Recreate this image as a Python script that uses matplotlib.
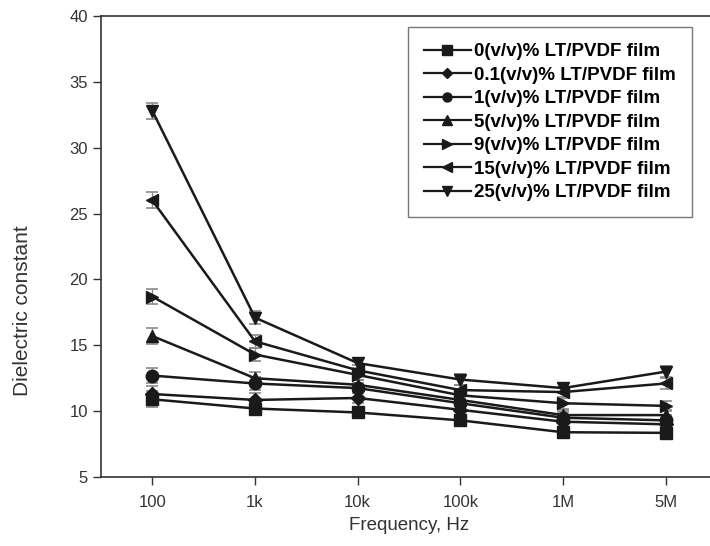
import matplotlib.pyplot as plt
from matplotlib.lines import Line2D
import numpy as np

plt.rcParams['font.family'] = ['Liberation Sans', 'DejaVu Sans']

# --- DATA ---
freq_labels = ['100', '1k', '10k', '100k', '1M', '5M']
series_names = ['0(v/v)% LT/PVDF film', '0.1(v/v)% LT/PVDF film', '1(v/v)% LT/PVDF film',
                '5(v/v)% LT/PVDF film', '9(v/v)% LT/PVDF film', '15(v/v)% LT/PVDF film',
                '25(v/v)% LT/PVDF film']
markers = ['s', 'D', 'o', '^', '>', '<', 'v']

lt0 = [10.9, 10.2, 9.9, 9.3, 8.4, 8.35]
lt01 = [11.3, 10.85, 11.0, 10.1, 9.2, 9.0]
lt1 = [12.7, 12.1, 11.75, 10.6, 9.5, 9.3]
lt5 = [15.7, 12.5, 12.0, 10.85, 9.7, 9.7]
lt9 = [18.7, 14.3, 12.75, 11.2, 10.6, 10.4]
lt15 = [26.0, 15.3, 13.1, 11.6, 11.45, 12.1]
lt25 = [32.8, 17.1, 13.65, 12.4, 11.75, 13.0]
err = [0.6, 0.5, 0.4, 0.4, 0.4, 0.4]

all_series = [lt0, lt01, lt1, lt5, lt9, lt15, lt25]
x = np.arange(len(freq_labels))

fig = plt.figure(figsize=(7.1, 5.46), dpi=100)
ax = fig.add_axes([101 / 710, 1 - 477 / 546, 616 / 710, 461 / 546])

for vals, name, m in zip(all_series, series_names, markers):
    ms = 7.5 if m == 'D' else 9
    ax.errorbar(x, vals, yerr=err, color='#1a1a1a', ecolor='#8a8a8a', elinewidth=1,
                capsize=4, capthick=1.2, marker=m, markersize=ms, lw=1.8)

ax.set_xlim(-0.5, 5.5)
ax.set_ylim(5, 40)
ax.set_xticks(x)
ax.set_xticklabels(freq_labels)
ax.set_yticks(range(5, 41, 5))
ax.tick_params(direction='out', length=6, width=1, labelsize=12, colors='#333333',
               labelcolor='#333333')
ax.tick_params(axis='x', pad=7)
for s in ax.spines.values():
    s.set_color('#333333')
    s.set_linewidth(1.2)

ax.set_xlabel('Frequency, Hz', fontsize=13.5, color='#333333', labelpad=5)
ax.set_ylabel('Dielectric constant', fontsize=15, color='#333333')
ax.yaxis.set_label_coords(-0.112, 0.36)

# legend with smaller markers like the original
handles = [Line2D([], [], color='#1a1a1a', lw=1.6, marker=m,
                  markersize=5.5 if m == 'D' else 6.5) for m in markers]
leg = ax.legend(handles, series_names, loc='upper left', bbox_to_anchor=(0.498, 0.976),
                frameon=True, fancybox=False, edgecolor='#555555',
                prop={'weight': 'bold', 'size': 13.5}, handlelength=2.5,
                handletextpad=0.2, labelspacing=0.34, borderpad=0.85,
                borderaxespad=0)
leg.get_frame().set_linewidth(1.0)

fig.savefig('out.png', dpi=100)
